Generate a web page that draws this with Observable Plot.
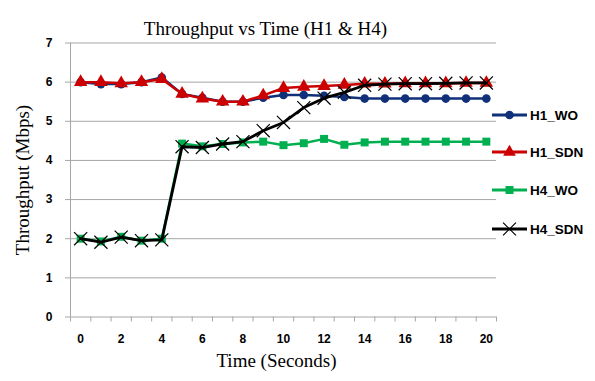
<!DOCTYPE html>
<html><head><meta charset="utf-8">
<script src="https://cdn.jsdelivr.net/npm/d3@7"></script>
<script src="https://cdn.jsdelivr.net/npm/@observablehq/plot@0.6"></script>
<style>
body{margin:0;background:#fff}
#wrap{position:relative;width:595px;height:381px}
</style>
</head><body><div id="wrap"></div>
<script>
const time = [0,1,2,3,4,5,6,7,8,9,10,11,12,13,14,15,16,17,18,19,20];
const h1WO  = [6.0,5.95,5.95,6.0,6.12,5.7,5.6,5.5,5.5,5.6,5.67,5.67,5.65,5.62,5.58,5.58,5.58,5.58,5.58,5.58,5.58];
const h1SDN = [6.0,6.0,5.97,6.0,6.08,5.7,5.58,5.5,5.5,5.66,5.85,5.88,5.9,5.93,5.96,5.96,5.97,5.97,5.97,5.98,5.98];
const h4WO  = [2.0,1.93,2.05,1.95,2.0,4.43,4.36,4.42,4.46,4.48,4.39,4.44,4.55,4.4,4.46,4.48,4.48,4.48,4.48,4.48,4.48];
const h4SDN = [2.0,1.91,2.04,1.95,1.97,4.35,4.33,4.42,4.48,4.76,4.97,5.35,5.59,5.74,5.92,5.95,5.96,5.96,5.97,5.98,5.98];
const seriesNames = ["H1_WO","H1_SDN","H4_WO","H4_SDN"];
const seriesColors = ["#10307a","#cc0000","#00b050","#000000"];
const yTicks = [0,1,2,3,4,5,6,7];
const xLabelTicks = [0,2,4,6,8,10,12,14,16,18,20];
const xBoundaries = [-0.5,0.5,1.5,2.5,3.5,4.5,5.5,6.5,7.5,8.5,9.5,10.5,11.5,12.5,13.5,14.5,15.5,16.5,17.5,18.5,19.5,20.5];

const allValues = [h1WO,h1SDN,h4WO,h4SDN];
const rows = [];
allValues.forEach((vals,si)=>vals.forEach((v,i)=>rows.push({series:seriesNames[si], t:time[i], v})));
const bySeries = n => rows.filter(r=>r.series===n);

const grid = "#a6a6a6";
const sans = "'Liberation Sans', Arial, sans-serif";
const serif = "'Liberation Serif', 'Times New Roman', serif";

const plot = Plot.plot({
  width: 595, height: 381,
  marginLeft: 70, marginRight: 99, marginTop: 42.5, marginBottom: 64.5,
  style: {fontFamily: sans, background: "#fff", overflow: "visible"},
  x: {type: "linear", domain: [-0.5, 20.5], axis: null},
  y: {domain: [0, 7], axis: null},
  marks: [
    Plot.ruleY(yTicks.filter(d=>d>0), {stroke: grid, strokeWidth: 1}),
    Plot.ruleY([0], {stroke: grid, strokeWidth: 1}),
    Plot.ruleX([-0.5], {stroke: grid, strokeWidth: 1}),
    Plot.axisY({ticks: yTicks, label: null, tickSize: 5, tickPadding: 13, stroke: grid, fontSize: 12, fontWeight: "bold", fill: "#000", tickFormat: d=>String(d)}),
    Plot.axisX({ticks: xBoundaries, label: null, tickSize: 5, stroke: grid, tickFormat: ()=>""}),
    Plot.axisX({ticks: xLabelTicks, label: null, tickSize: 0, tickPadding: 17, fontSize: 12, fontWeight: "bold", fill: "#000", tickFormat: d=>String(d)}),
    // H1_WO
    Plot.line(bySeries("H1_WO"), {x:"t", y:"v", stroke: seriesColors[0], strokeWidth: 2.5}),
    Plot.dot(bySeries("H1_WO"), {x:"t", y:"v", fill: seriesColors[0], r: 4.3, symbol: "circle"}),
    // H1_SDN
    Plot.line(bySeries("H1_SDN"), {x:"t", y:"v", stroke: seriesColors[1], strokeWidth: 2.5}),
    Plot.dot(bySeries("H1_SDN"), {x:"t", y:"v", fill: seriesColors[1], r: 5, symbol: "triangle"}),
    // H4_WO
    Plot.line(bySeries("H4_WO"), {x:"t", y:"v", stroke: seriesColors[2], strokeWidth: 2.5}),
    Plot.dot(bySeries("H4_WO"), {x:"t", y:"v", fill: seriesColors[2], r: 4.5, symbol: "square"}),
    // H4_SDN
    Plot.line(bySeries("H4_SDN"), {x:"t", y:"v", stroke: seriesColors[3], strokeWidth: 2.8}),
    Plot.dot(bySeries("H4_SDN"), {x:"t", y:"v", stroke: seriesColors[3], strokeWidth: 1.2, r: 6, symbol: "times"}),
    // titles
    Plot.text(["Throughput vs Time (H1 & H4)"], {frameAnchor: "top", textAnchor: "middle", dy: -22, dx: -18, fontSize: 19, fontWeight: "normal", fontFamily: serif, fill: "#000"}),
    Plot.text(["Time (Seconds)"], {frameAnchor: "bottom", textAnchor: "middle", dy: 50, dx: -7, fontSize: 19, fontWeight: "normal", fontFamily: serif, fill: "#000"}),
    Plot.text(["Throughput (Mbps)"], {frameAnchor: "left", textAnchor: "middle", dx: -48, rotate: -90, fontSize: 19, fontWeight: "normal", fontFamily: serif, fill: "#000"})
  ]
});
document.getElementById("wrap").appendChild(plot);

// legend (right side)
const svg = d3.select(plot);
const legendY = [115, 152, 190, 229];
const lg = svg.append("g").attr("font-family", sans).attr("font-weight", "bold").attr("font-size", 13.5).attr("text-anchor", "start");
seriesNames.forEach((name, i) => {
  const g = lg.append("g").attr("transform", `translate(492,${legendY[i]})`);
  g.append("line").attr("x1",0).attr("x2",35).attr("y1",0).attr("y2",0).attr("stroke",seriesColors[i]).attr("stroke-width",2.8);
  const sym = [d3.symbolCircle, d3.symbolTriangle, d3.symbolSquare, d3.symbolTimes][i];
  const size = [58, 70, 64, 110][i];
  const p = g.append("path").attr("transform","translate(17.5,0)").attr("d", d3.symbol(sym, size)());
  if (i === 3) p.attr("fill","none").attr("stroke","#000").attr("stroke-width",1.2);
  else p.attr("fill", seriesColors[i]);
  g.append("text").attr("x",38).attr("y",0).attr("dy","0.35em").attr("text-anchor","start").attr("fill","#000").text(name);
});
</script>
</body></html>
